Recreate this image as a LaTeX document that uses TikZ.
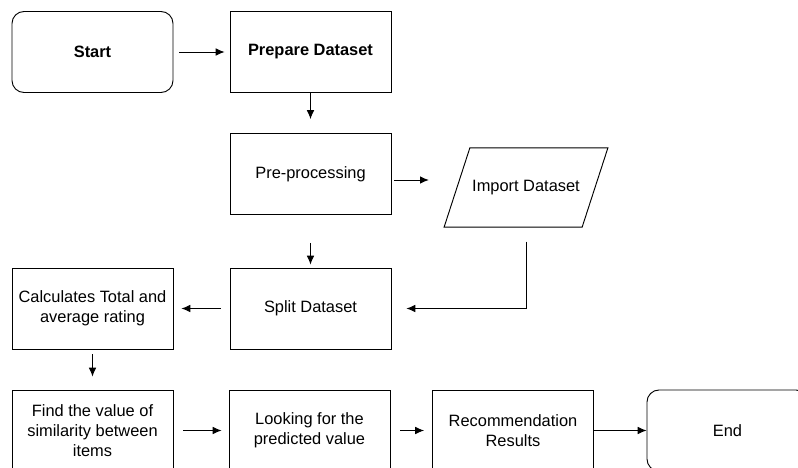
\documentclass[tikz,border=0pt]{standalone}
\usepackage{fontspec}
\setmainfont{Liberation Sans}
\usetikzlibrary{positioning,shapes.geometric,arrows.meta}

\begin{document}
\begin{tikzpicture}[
        x=0.03cm, y=-0.03cm,
        font=\fontsize{14}{16.8}\selectfont,
        process/.style={rectangle, draw, line width=0.8pt, minimum width=4.83cm, minimum height=2.43cm, align=center, inner sep=2pt},
        terminal/.style={process, rounded corners=0.36cm},
        data/.style={trapezium, draw, line width=0.8pt, trapezium left angle=72, trapezium right angle=108, trapezium stretches body, inner xsep=2pt, inner ysep=27.6pt, minimum width=4.86cm, align=center},
        connection/.style={-{Latex[length=7.5pt,width=6.5pt]}, line width=0.8pt}
    ]
    \useasboundingbox (0,0) rectangle (798,468);

    % Top row
    \node[terminal] (start) at (92.5, 52) {\textbf{Start}};
    \node[process] (prep) at (310.5, 52) {\textbf{Prepare Dataset}};

    % Middle column
    \node[process] (pre) at (310.5, 174) {Pre-processing};
    \node[data] (import) at (526, 187.5) {Import Dataset};
    \node[process] (split) at (310.5, 308.5) {Split Dataset};
    \node[process] (calc) at (92.5, 308.5) {Calculates Total and\\average rating};

    % Bottom row
    \node[process] (find) at (92.5, 430.5) {Find the value of\\similarity between\\items};
    \node[process] (look) at (309.5, 430.5) {Looking for the\\predicted value};
    \node[process] (rec) at (513, 430.5) {Recommendation\\Results};
    \node[terminal] (end) at (727.5, 430.5) {End};

    % Connections
    \draw[connection, shorten <=0.18cm, shorten >=0.15cm] (start) -- (prep);
    \draw[connection, shorten >=0.42cm] (prep) -- (pre);
    \draw[connection, shorten <=0.09cm, shorten >=0.83cm] ([yshift=-0.18cm]pre.east) -- ([yshift=-0.18cm]pre.east -| import.west);
    \draw[connection, shorten <=0.42cm, shorten >=0.45cm] (import.south) |- (split.east);
    \draw[connection, shorten <=0.84cm, shorten >=0.09cm] (pre) -- (split);
    \draw[connection, shorten <=0.27cm, shorten >=0.24cm] (split) -- (calc);
    \draw[connection, shorten <=0.15cm, shorten >=0.39cm] (calc) -- (find);
    \draw[connection, shorten <=0.3cm, shorten >=0.21cm] (find) -- (look);
    \draw[connection, shorten <=0.3cm, shorten >=0.24cm] (look) -- (rec);
    \draw[connection] (rec) -- (end);

    \end{tikzpicture}
\end{document}
